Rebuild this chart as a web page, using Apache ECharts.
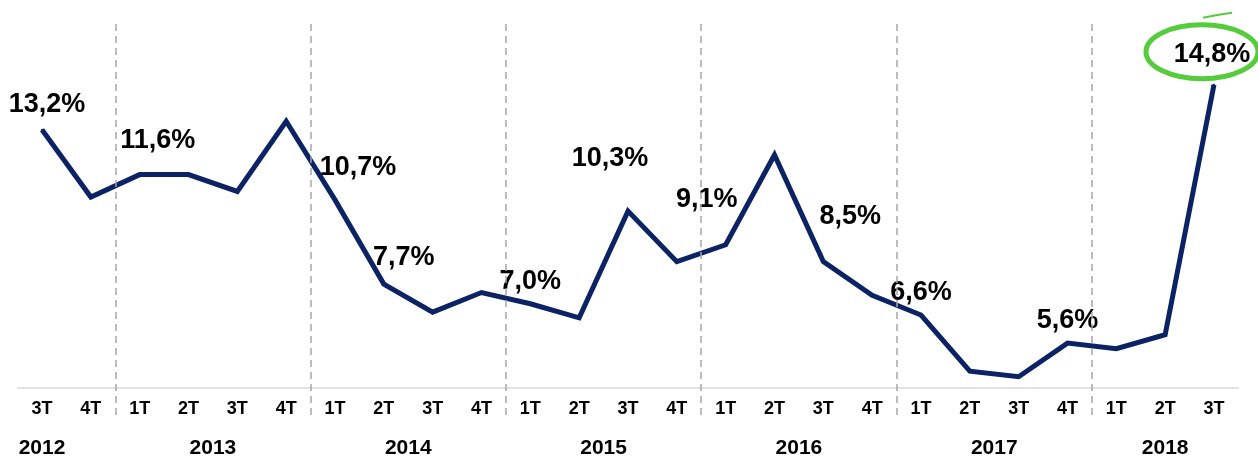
<!DOCTYPE html>
<html>
<head>
<meta charset="utf-8">
<script src="https://cdn.jsdelivr.net/npm/echarts@6/dist/echarts.min.js"></script>
<style>
  html, body { margin: 0; padding: 0; background: #fff; }
  #chart { width: 1258px; height: 459px; }
</style>
</head>
<body>
<div id="chart"></div>
<script>
// quarters and the year each one belongs to
const quarters = ['3T', '4T', '1T', '2T', '3T', '4T', '1T', '2T', '3T', '4T', '1T', '2T', '3T',
  '4T', '1T', '2T', '3T', '4T', '1T', '2T', '3T', '4T', '1T', '2T', '3T'];
const years = ['2012', '2012', '2013', '2013', '2013', '2013', '2014', '2014', '2014', '2014',
  '2015', '2015', '2015', '2015', '2016', '2016', '2016', '2016', '2017', '2017', '2017', '2017',
  '2018', '2018', '2018'];
const rates = [13.2, 10.8, 11.6, 11.6, 11.0, 13.5, 10.7, 7.7, 6.7, 7.4, 7.0, 6.5, 10.3,
  8.5, 9.1, 12.3, 8.5, 7.3, 6.6, 4.6, 4.4, 5.6, 5.4, 5.9, 14.8];
// points that carry a value label
const labelled = [0, 2, 6, 7, 10, 12, 14, 16, 18, 21, 24];

// label offsets (px) from the point, for readability
const labelOffsets = {
  0: [5, -25], 2: [18, -34], 6: [23, -32], 7: [20, -27], 10: [0, -22], 12: [-18, -53],
  14: [-19, -45], 16: [27, -45], 18: [0, -22], 21: [0, -23], 24: [-2, -30]
};

const FONT = 'Arial';
const fmt = v => v.toFixed(1).replace('.', ',') + '%';

// year groups -> label centre and boundaries, in band units
const groups = [];
years.forEach((y, i) => {
  const g = groups[groups.length - 1];
  if (g && g.year === y) g.end = i + 1;
  else groups.push({ year: y, start: i, end: i + 1 });
});
const yearAt = {};
groups.forEach((g, k) => {
  let c = (g.start + g.end) / 2;
  if (k === 0 && g.end - g.start < 4) c = g.start + 0.5; // leading partial year sits under its first quarter
  yearAt[c] = g.year;
});
const bounds = groups.slice(1).map(g => ({ xAxis: g.start }));

const SYM = 2;
const seriesData = rates.map((v, i) => {
  if (labelled.indexOf(i) < 0) return v;
  const o = labelOffsets[i];
  return {
    value: v,
    label: {
      show: true,
      position: [SYM / 2 + o[0], SYM / 2 + o[1]],
      align: 'center', verticalAlign: 'middle',
      color: '#000', fontWeight: 'bold', fontSize: 27, fontFamily: FONT,
      formatter: fmt(v)
    }
  };
});

const chart = echarts.init(document.getElementById('chart'));
const L = 17.6, R = 19.6;

chart.setOption({
  animation: false,
  grid: [
    { left: L, right: R, top: 23, bottom: 71 },
    { left: L, right: R, top: 20, bottom: 44 }
  ],
  xAxis: [
    {
      type: 'category', gridIndex: 0, data: quarters, boundaryGap: true,
      axisLine: { lineStyle: { color: '#d9d9d9', width: 1.5 } },
      axisTick: { show: false },
      axisLabel: {
        interval: 0, margin: 12, color: '#000', fontWeight: 'bold', fontSize: 18, fontFamily: FONT
      }
    },
    {
      type: 'value', gridIndex: 1, min: 0, max: quarters.length, interval: 0.5,
      axisLine: { show: false }, axisTick: { show: false }, splitLine: { show: false },
      axisLabel: {
        margin: 23, color: '#000', fontWeight: 'bold', fontSize: 21, fontFamily: FONT,
        showMinLabel: true, showMaxLabel: true,
        formatter: v => yearAt[v] || ''
      }
    }
  ],
  yAxis: [
    { type: 'value', gridIndex: 0, min: 4, max: 17, show: false },
    { type: 'value', gridIndex: 1, min: 0, max: 1, show: false }
  ],
  series: [
    {
      type: 'line', xAxisIndex: 0, yAxisIndex: 0, data: seriesData,
      symbol: 'circle', symbolSize: SYM, showSymbol: true,
      lineStyle: { color: '#0b2265', width: 5, join: 'miter' },
      itemStyle: { color: '#0b2265' },
      label: { show: false },
      labelLayout: { hideOverlap: false },
      z: 3
    },
    {
      type: 'line', xAxisIndex: 1, yAxisIndex: 1, data: [],
      markLine: {
        silent: true, symbol: 'none', label: { show: false },
        lineStyle: { color: '#a6a6a6', width: 1.5, type: [7, 5] },
        data: bounds
      },
      z: 1
    }
  ]
});

// green highlight around the last value
const last = rates.length - 1;
const p = chart.convertToPixel({ gridIndex: 0 }, [last, rates[last]]);
chart.setOption({
  graphic: [
    {
      type: 'ellipse',
      shape: { cx: p[0] - 12, cy: p[1] - 33, rx: 56, ry: 27 },
      style: { fill: 'none', stroke: '#55cc3c', lineWidth: 5 },
      z: 10
    },
    {
      type: 'bezierCurve',
      shape: { x1: p[0] - 11, y1: p[1] - 67, x2: p[0] + 18, y2: p[1] - 72, cpx1: p[0] + 3, cpy1: p[1] - 70 },
      style: { fill: 'none', stroke: '#55cc3c', lineWidth: 2 },
      z: 10
    }
  ]
});
</script>
</body>
</html>
